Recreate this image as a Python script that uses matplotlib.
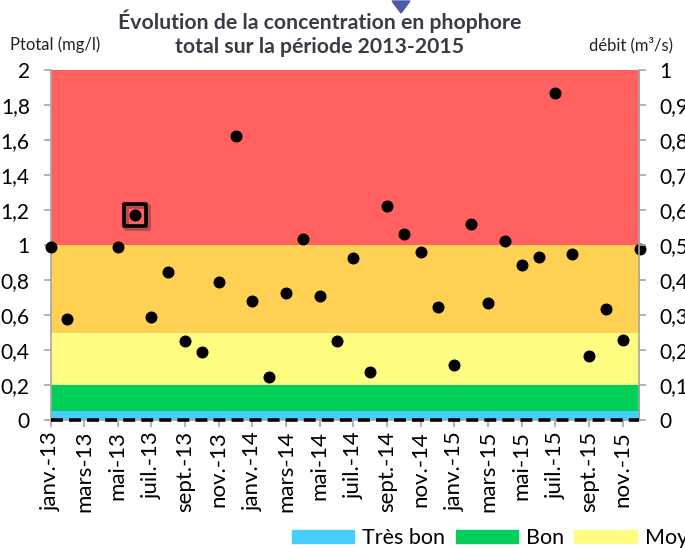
import matplotlib
matplotlib.use("Agg")
import matplotlib.pyplot as plt
from matplotlib.patches import Patch, Polygon
from matplotlib.transforms import offset_copy

plt.rcParams['font.family'] = ['Lato', 'DejaVu Sans']

# ---- data ----
months = list(range(36))
month_labels = ["janv.-13", "mars-13", "mai-13", "juil.-13", "sept.-13", "nov.-13",
                "janv.-14", "mars-14", "mai-14", "juil.-14", "sept.-14", "nov.-14",
                "janv.-15", "mars-15", "mai-15", "juil.-15", "sept.-15", "nov.-15"]
p_months = [0, 1, 4, 5, 6, 7, 8, 9, 10, 11, 12, 13, 14, 15, 16, 17, 18, 19, 20,
            21, 22, 23, 24, 25, 26, 27, 28, 29, 30, 31, 32, 33, 34, 35]
ptotal = [0.99, 0.575, 0.99, 1.174, 0.589, 0.847, 0.452, 0.386, 0.79, 1.622,
          0.68, 0.243, 0.724, 1.035, 0.708, 0.452, 0.927, 0.277, 1.225, 1.064,
          0.959, 0.644, 0.315, 1.122, 0.668, 1.022, 0.885, 0.934, 1.869, 0.95,
          0.366, 0.634, 0.46, 0.978]
highlight_month = 5
highlight_value = 1.174
debit = [0.0] * 36
class_names = ["Très bon", "Bon", "Moyen", "Médiocre", "Mauvais"]
class_bounds = [0.0, 0.05, 0.2, 0.5, 1.0, 2.0]
class_colors = ["#45CDFF", "#00D05A", "#FFFC82", "#FED155", "#FF6161"]
left_ticks = [0, 0.2, 0.4, 0.6, 0.8, 1.0, 1.2, 1.4, 1.6, 1.8, 2.0]
right_ticks = [0, 0.1, 0.2, 0.3, 0.4, 0.5, 0.6, 0.7, 0.8, 0.9, 1.0]


def fr(v):
    return ("%g" % v).replace(".", ",")


fig = plt.figure(figsize=(6.85, 5.48), dpi=100)
ax = fig.add_axes([50.5 / 685, 1 - 420 / 548, (639.5 - 50.5) / 685, (420 - 70) / 548])

for i, name in enumerate(class_names):
    ax.axhspan(class_bounds[i], class_bounds[i + 1], color=class_colors[i], lw=0, zorder=0)

ax.scatter(p_months, ptotal, s=58, color="black", zorder=5, clip_on=False)
# highlighted point: shadow then frame
shadow_tr = offset_copy(ax.transData, fig=fig, x=2.5, y=-2.5, units="dots")
ax.scatter([highlight_month], [highlight_value], s=250, marker="s", facecolor="none",
           edgecolor="#6b3030", alpha=0.45, linewidth=3.5, zorder=5.5, transform=shadow_tr)
ax.scatter([highlight_month], [highlight_value], s=250, marker="s", facecolor="none",
           edgecolor="black", linewidth=2.6, zorder=6)

ax.set_xlim(0, 35)
ax.set_ylim(0, 2)
ax.set_yticks(left_ticks)
ax.set_yticklabels([fr(v) for v in left_ticks])
ax.set_xticks(months[::2])
ax.set_xticklabels(month_labels, rotation=90, va="top", ha="center")

ax.spines["top"].set_visible(False)
ax.spines["right"].set_visible(False)
for s in ["left", "bottom"]:
    ax.spines[s].set_color("#A6A6A6")
    ax.spines[s].set_linewidth(1.2)
ax.tick_params(axis="y", colors="#A6A6A6", labelcolor="black", labelsize=15, length=5, width=1.2, pad=10)
ax.tick_params(axis="x", colors="#A6A6A6", labelcolor="black", labelsize=16, length=5, width=1.2, pad=3)

ax2 = ax.twinx()
ax2.plot(months, debit, color="black", linestyle=(0, (3.3, 1.7)), linewidth=2.6, clip_on=False, zorder=4)
ax2.set_ylim(0, 1)
ax2.set_yticks(right_ticks)
ax2.set_yticklabels([fr(v) for v in right_ticks])
ax2.spines["top"].set_visible(False)
ax2.spines["left"].set_visible(False)
ax2.spines["bottom"].set_visible(False)
ax2.spines["right"].set_color("#A6A6A6")
ax2.spines["right"].set_linewidth(1.2)
ax2.tick_params(axis="y", colors="#A6A6A6", labelcolor="black", labelsize=15, length=5, width=1.2, pad=9)

fig.text(0.467, 1 - 33 / 548, "Évolution de la concentration en phophore\ntotal sur la période 2013-2015",
         ha="center", va="center", fontsize=15.3, fontweight="bold", color="#3B3B48", linespacing=1.22)
fig.text(10 / 685, 1 - 45 / 548, "Ptotal (mg/l)", ha="left", va="center", fontsize=12, color="#222222")
fig.text(589 / 685, 1 - 45 / 548, "débit (m³/s)", ha="left", va="center", fontsize=12, color="#222222")

# small blue marker at the top
fig.add_artist(Polygon([[392 / 685, 1 - 1 / 548], [410 / 685, 1 - 1 / 548], [401 / 685, 1 - 13 / 548]],
                       closed=True, transform=fig.transFigure, color="#4B5BA6"))

handles = [Patch(color=c) for c in class_colors]
fig.legend(handles, class_names, loc="center left", bbox_to_anchor=(292 / 685, 1 - 538 / 548), ncol=5,
           frameon=False, fontsize=15.5, handlelength=2.9, handleheight=0.52, handletextpad=0.37,
           columnspacing=0.47, borderaxespad=0, borderpad=0)

fig.savefig("out.png", dpi=100)
